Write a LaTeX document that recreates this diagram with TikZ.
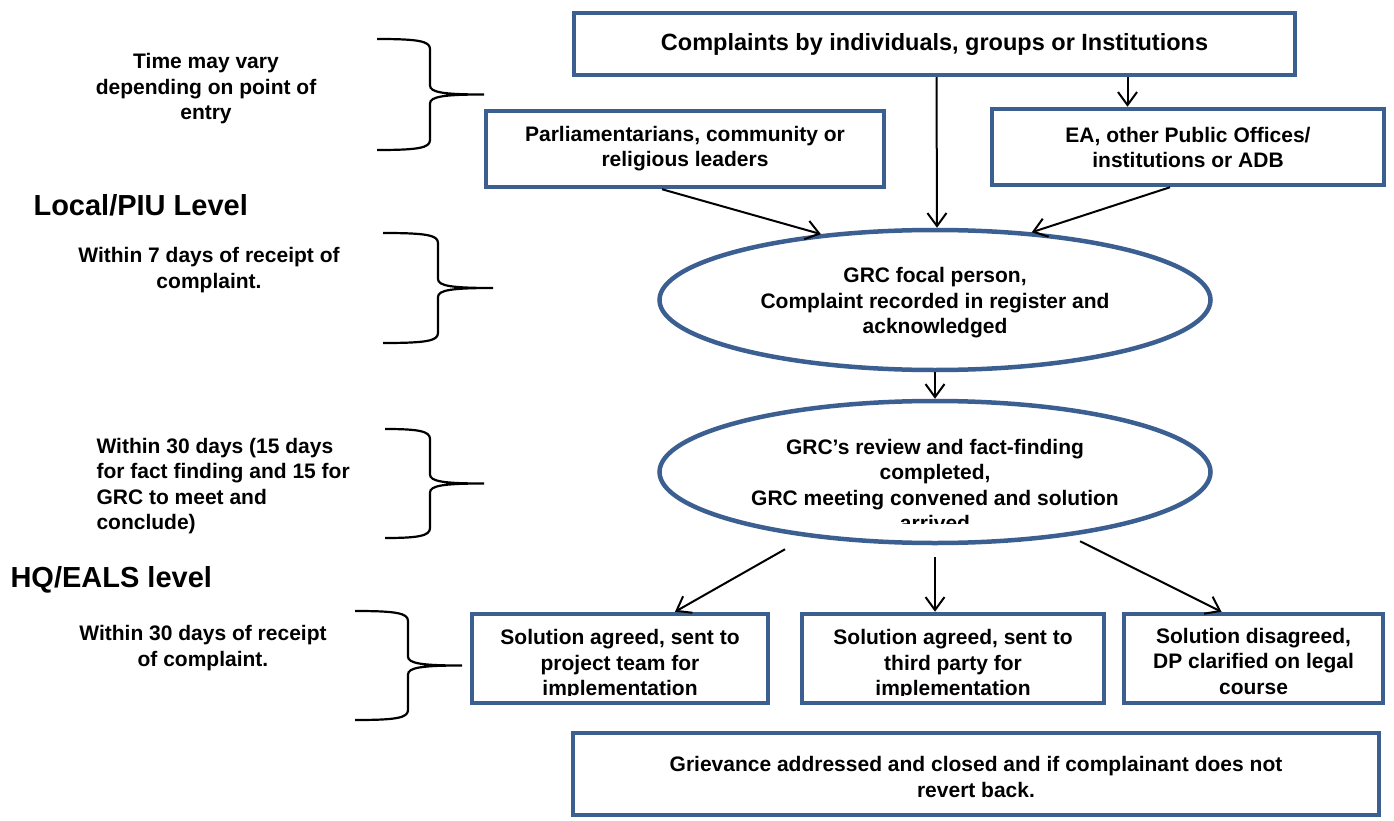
\documentclass[tikz,border=0pt]{standalone}
\usepackage{fontspec}
\setmainfont{Liberation Sans}
\usetikzlibrary{arrows.meta,shapes.geometric,positioning}
\definecolor{boxblue}{RGB}{60,95,145}

\begin{document}
\begin{tikzpicture}[
    x = 1pt, y = -1pt, % pixel units, y going down
    > = {Straight Barb[length=13pt,width=19pt]}, % arrow head style
    line join = miter
    ]

    \tikzset{
    flowbox/.style = {draw = boxblue, line width = 4.5pt, inner sep = 0pt, align = center,
                      font = \fontsize{21}{25}\selectfont\bfseries},
    flowoval/.style = {flowbox, ellipse},
    plaintext/.style = {align = center, font = \fontsize{21}{25.5}\selectfont\bfseries},
    leveltext/.style = {anchor = west, font = \fontsize{29}{34}\selectfont\bfseries},
    flow/.style = {->, line width = 2pt},
    brace/.style = {line width = 2.2pt}
    }
    \useasboundingbox (0,0) rectangle (1394,821);

    % flow boxes
    \node[flowbox, minimum width=721, minimum height=62, font=\fontsize{23.5}{28}\selectfont\bfseries] (src) at (934.5,44) {Complaints by individuals, groups or Institutions};
    \node[flowbox, minimum width=398, minimum height=76] (parl) at (685,149) {Parliamentarians, community or\\religious leaders};
    \node[flowbox, minimum width=392, minimum height=76] (ea) at (1188,147) {EA, other Public Offices/\\institutions or ADB};
    \node[flowoval, minimum width=551, minimum height=140] (grc1) at (935,300) {};
    \node[plaintext] (grc1text) at (935,303) {GRC focal person,\\Complaint recorded in register and\\acknowledged};
    \node[flowoval, minimum width=551, minimum height=142] (grc2) at (935,472) {};
    \node[flowbox, minimum width=296, minimum height=89] (s1) at (620,658.5) {};
    \node[flowbox, minimum width=302, minimum height=89] (s2) at (953,658.5) {};
    \node[flowbox, minimum width=259, minimum height=89] (s3) at (1253.5,658.5) {};
    \node[plaintext] (s3text) at (1253.5,661) {Solution disagreed,\\DP clarified on legal\\course};
    \node[flowbox, minimum width=806, minimum height=82] (close) at (976,774) {};
    \node[plaintext] (closetext) at (976,777) {Grievance addressed and closed and if complainant does not\\revert back.};

    % texts cut off by their boxes
    \begin{scope}
    \clip (660,400) rectangle (1210,523);
    \node[plaintext] (grc2text) at (935,485) {GRC's review and fact-finding\\completed,\\GRC meeting convened and solution\\arrived};
    \end{scope}
    \begin{scope}
    \clip (s1.north west) rectangle (770,695);
    \node[plaintext] (s1text) at (620,665) {Solution agreed, sent to\\project team for\\implementation};
    \end{scope}
    \begin{scope}
    \clip (s2.north west) rectangle (1104,695);
    \node[plaintext] (s2text) at (953,665) {Solution agreed, sent to\\third party for\\implementation};
    \end{scope}

    % time and level labels
    \node[plaintext] (t1) at (206,89) {Time may vary\\depending on point of\\entry};
    \node[leveltext] (lvl1) at (30,205) {Local/PIU Level};
    \node[plaintext] (t2) at (209,270) {Within 7 days of receipt of\\complaint.};
    \node[plaintext, align=left, anchor=west] (t3) at (93,486) {Within 30 days (15 days\\for fact finding and 15 for\\GRC to meet and\\conclude)};
    \node[leveltext] (lvl2) at (7,580) {HQ/EALS level};
    \node[plaintext] (t4) at (203,648) {Within 30 days of receipt\\of complaint.};

    % braces
    \foreach \xl/\xv/\xt/\yt/\yb in {377/430/484/39/150, 383/438/493/233/343, 385/430/484/429/538, 355/408/462/611/720}{
      \pgfmathsetmacro\ym{(\yt+\yb)/2}
      \draw[brace] (\xl,\yt) .. controls (\xv-12,\yt) and (\xv,\yt+2) .. (\xv,\yt+10)
        -- (\xv,\ym-9) .. controls (\xv,\ym-2) and (\xv+14,\ym) .. (\xt,\ym)
        .. controls (\xv+14,\ym) and (\xv,\ym+2) .. (\xv,\ym+9)
        -- (\xv,\yb-10) .. controls (\xv,\yb-2) and (\xv-12,\yb) .. (\xl,\yb);
    }

    % connectors
    \coordinate (eain) at ([xshift=193pt]src.south);
    \draw[flow] ([xshift=2pt]src.south) -- ([xshift=2pt]grc1.north);
    \draw[flow] (eain) -- (eain |- ea.north);
    \draw[flow] ([xshift=-23pt]parl.south) -- (grc1.150);
    \draw[flow] ([xshift=-18pt]ea.south) -- (grc1.35);
    \draw[flow] (grc1.south) -- (grc2.north);
    \draw[flow] ([xshift=-150pt,yshift=-4pt]grc2.south) -- ([xshift=55pt]s1.north);
    \draw[flow] ([yshift=-12pt]grc2.south) -- (grc2.south |- s2.north);
    \draw[flow] ([xshift=145pt,yshift=4pt]grc2.south) -- ([xshift=-32pt]s3.north);
\end{tikzpicture}
\end{document}
